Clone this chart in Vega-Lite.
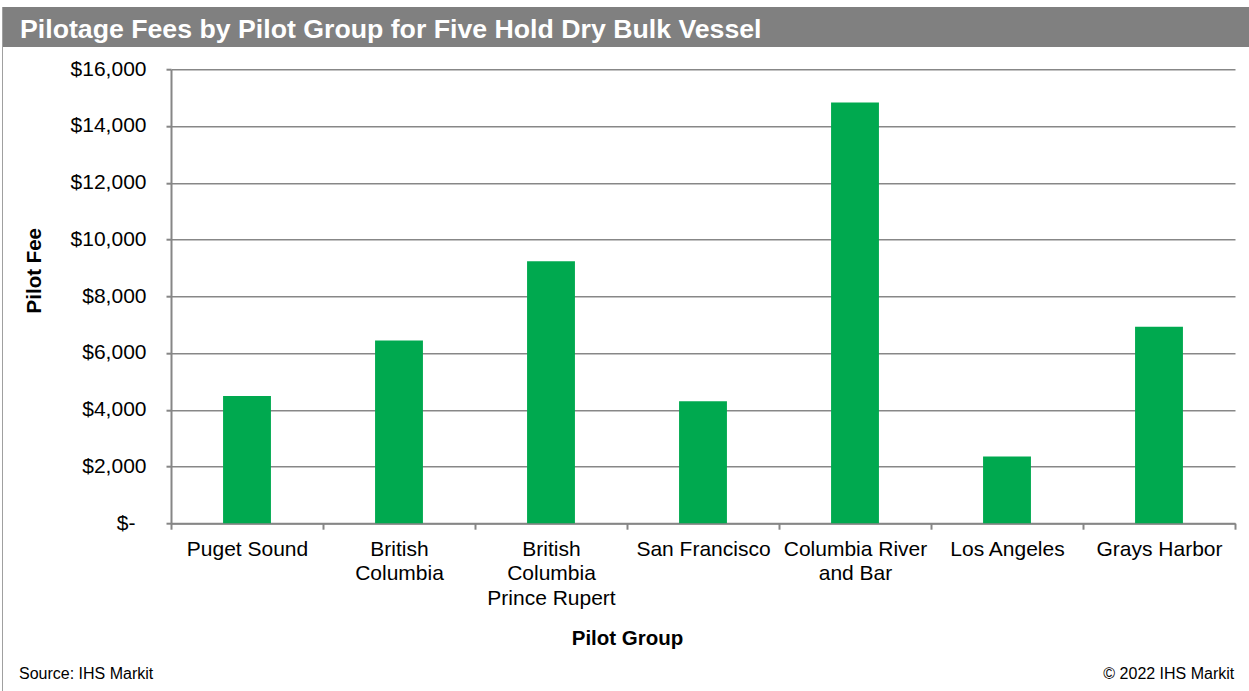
{
  "$schema": "https://vega.github.io/schema/vega-lite/v6.json",
  "background": "white",
  "padding": {"left": 2, "top": 7, "right": 0, "bottom": 0},
  "config": {"font": "Liberation Sans", "view": {"stroke": null}},
  "spacing": 0,
  "hconcat": [
    {
      "width": 1,
      "height": 684,
      "view": {"fill": "#a0a0a0", "stroke": null},
      "data": {"values": [{}]},
      "mark": {"type": "point", "opacity": 0, "size": 0}
    },
    {
      "columns": 1,
      "align": "none",
      "spacing": 11.2,
      "concat": [
        {
          "width": 1246,
          "height": 40,
          "view": {"fill": "#808080", "stroke": null},
          "data": {"values": [{"title": "Pilotage Fees by Pilot Group for Five Hold Dry Bulk Vessel"}]},
          "mark": {"type": "text", "align": "left", "baseline": "alphabetic", "fontSize": 26.7, "fontWeight": "bold", "color": "white"},
          "encoding": {
            "text": {"field": "title"},
            "x": {"datum": 0, "type": "quantitative", "scale": {"domain": [-0.013644, 0.986356], "nice": false, "zero": false}, "axis": null},
            "y": {"datum": 0.2325, "type": "quantitative", "scale": {"domain": [0, 1], "nice": false, "zero": false}, "axis": null}
          }
        },
        {
          "spacing": 0,
          "hconcat": [
            {
              "width": 20.6,
              "height": 1,
              "data": {"values": [{}]},
              "mark": {"type": "point", "opacity": 0, "size": 0}
            },
            {
              "width": 1064,
              "height": 454,
              "data": {
                "values": [
                  {"group": "Puget Sound", "fee": 4480},
                  {"group": "British Columbia", "fee": 6440},
                  {"group": "British Columbia Prince Rupert", "fee": 9230},
                  {"group": "San Francisco", "fee": 4300},
                  {"group": "Columbia River and Bar", "fee": 14830},
                  {"group": "Los Angeles", "fee": 2350},
                  {"group": "Grays Harbor", "fee": 6920}
                ]
              },
              "mark": {"type": "bar", "color": "#00A94F", "width": {"band": 0.315}},
              "encoding": {
                "x": {
                  "field": "group",
                  "type": "nominal",
                  "sort": null,
                  "scale": {"paddingInner": 0, "paddingOuter": 0},
                  "axis": {
                    "title": "Pilot Group",
                    "titleX": 456,
                    "titleY": 121.3,
                    "titleBaseline": "alphabetic",
                    "titleAlign": "center",
                    "titleAnchor": null,
                    "titleFontSize": 20.5,
                    "titleFontWeight": "bold",
                    "titleColor": "black",
                    "labelAngle": 0,
                    "labelFontSize": 21,
                    "labelColor": "black",
                    "labelBaseline": "alphabetic",
                    "labelLineHeight": 24.5,
                    "labelPadding": 26,
                    "labelLimit": 400,
                    "labelExpr": "datum.value == 'British Columbia' ? ['British', 'Columbia'] : datum.value == 'British Columbia Prince Rupert' ? ['British', 'Columbia', 'Prince Rupert'] : datum.value == 'Columbia River and Bar' ? ['Columbia River', 'and Bar'] : datum.value",
                    "tickBand": "extent",
                    "tickSize": 6,
                    "tickColor": "#868686",
                    "tickWidth": 2,
                    "domainColor": "#868686",
                    "domainWidth": 2
                  }
                },
                "y": {
                  "field": "fee",
                  "type": "quantitative",
                  "scale": {"domain": [0, 16000], "nice": false},
                  "axis": {
                    "title": "Pilot Fee",
                    "titleX": -131,
                    "titleY": 201,
                    "titleAngle": -90,
                    "titleBaseline": "alphabetic",
                    "titleAlign": "center",
                    "titleAnchor": null,
                    "titleFontSize": 20.5,
                    "titleFontWeight": "bold",
                    "titleColor": "black",
                    "values": [0, 2000, 4000, 6000, 8000, 10000, 12000, 14000, 16000],
                    "labelExpr": "datum.value == 0 ? '$-' : '$' + format(datum.value, ',')",
                    "labelFontSize": 21,
                    "labelColor": "black",
                    "labelPadding": {"condition": {"test": "datum.value == 0", "value": 31}, "value": 20},
                    "tickSize": 5,
                    "tickColor": "#868686",
                    "tickWidth": 2,
                    "domainColor": "#868686",
                    "domainWidth": 2,
                    "gridColor": "#878787",
                    "gridWidth": 1.5
                  }
                }
              }
            }
          ]
        },
        {
          "width": 1246,
          "height": 18.4,
          "layer": [
            {
              "data": {"values": [{"t": "Source: IHS Markit"}]},
              "mark": {"type": "text", "align": "left", "baseline": "alphabetic", "fontSize": 16, "color": "black"},
              "encoding": {
                "text": {"field": "t"},
                "x": {"datum": 0, "type": "quantitative", "scale": {"domain": [-0.013165, 1.012095], "nice": false, "zero": false}, "axis": null},
                "y": {"datum": 0, "type": "quantitative", "scale": {"domain": [0, 1], "nice": false, "zero": false}, "axis": null}
              }
            },
            {
              "data": {"values": [{"t": "© 2022 IHS Markit"}]},
              "mark": {"type": "text", "align": "right", "baseline": "alphabetic", "fontSize": 16, "color": "black"},
              "encoding": {
                "text": {"field": "t"},
                "x": {"datum": 1, "type": "quantitative"},
                "y": {"datum": 0, "type": "quantitative"}
              }
            }
          ]
        }
      ]
    }
  ]
}
